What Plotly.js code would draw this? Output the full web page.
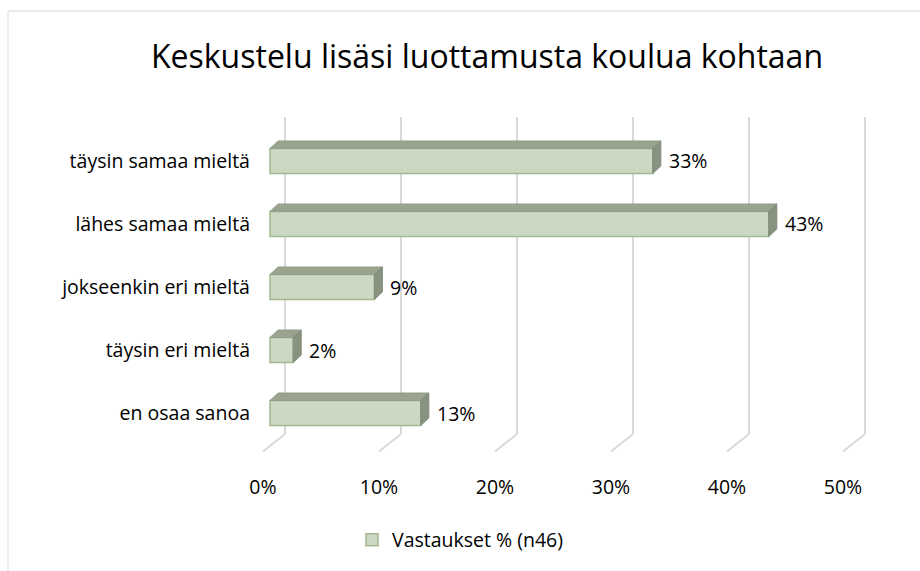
<!DOCTYPE html>
<html><head><meta charset="utf-8">
<script src="https://cdn.plot.ly/plotly-3.0.1.min.js"></script>
<style>html,body{margin:0;padding:0;background:#fff}</style>
</head><body><div id="chart" style="width:920px;height:571px"></div>
<script>
// ---- data ----
const categories = ['täysin samaa mieltä', 'lähes samaa mieltä', 'jokseenkin eri mieltä', 'täysin eri mieltä', 'en osaa sanoa'];
const values = [33, 43, 9, 2, 13];
const tickValues = [0, 10, 20, 30, 40, 50];
const tickLabels = ['0%', '10%', '20%', '30%', '40%', '50%'];
const seriesName = 'Vastaukset % (n46)';
const chartTitle = 'Keskustelu lisäsi luottamusta koulua kohtaan';

// ---- layout geometry (pixels) ----
const W = 920, H = 571;
const frontL = 270, frontR = 850;           // pixel positions of 0 and 50 on the bar plane
const xRange = [-0.7, 51.4];
const plotTop = 117, plotBottom = 434;
const yRange = [4.333, -0.698];
const pxPerX = (frontR - frontL) / 50;
const pxPerY = (plotBottom - plotTop) / (yRange[0] - yRange[1]);
const xDomainPx = [frontL + xRange[0] * pxPerX, frontL + xRange[1] * pxPerX];
const barH = 0.397;
const depthX = 8 / pxPerX, depthY = 7.5 / pxPerY;
const FONT = '"Open Sans", "Noto Sans", sans-serif';

const idx = categories.map((c, i) => i);

// 3D faces built from the data
const topX = [], topY = [], sideX = [], sideY = [];
values.forEach((v, i) => {
  const yt = i - barH / 2, yb = i + barH / 2;
  topX.push(0, v, v + depthX, depthX, 0, null);
  topY.push(yt, yt, yt - depthY, yt - depthY, yt, null);
  sideX.push(v, v, v + depthX, v + depthX, v, null);
  sideY.push(yt, yb, yb - depthY, yt - depthY, yt, null);
});

const traces = [
  { type: 'bar', orientation: 'h', name: seriesName, x: values, y: idx, width: barH,
    marker: { color: '#cdd8c2', line: { color: '#a2b98f', width: 1.5 } }, hoverinfo: 'x+y' },
  { type: 'scatter', x: topX, y: topY, mode: 'lines', fill: 'toself', fillcolor: '#99a38e',
    line: { color: '#939e88', width: 1 }, showlegend: false, hoverinfo: 'skip' },
  { type: 'scatter', x: sideX, y: sideY, mode: 'lines', fill: 'toself', fillcolor: '#87927f',
    line: { color: '#818c79', width: 1 }, showlegend: false, hoverinfo: 'skip' }
];

const yDomain = [(H - plotBottom) / H, (H - plotTop) / H];

// chart border + back-wall gridlines and floor edges (anchored on axis ticks, offset for depth)
const shapes = [
  { type: 'rect', xref: 'paper', yref: 'paper', x0: 8 / W, x1: 1.05, y0: -0.05, y1: 1 - 11 / H,
    line: { color: '#d9d9d9', width: 1 }, fillcolor: 'rgba(0,0,0,0)', layer: 'below' }
];
tickValues.forEach(t => {
  shapes.push({ type: 'line', xref: 'x', xsizemode: 'pixel', xanchor: t, x0: 15, x1: 15,
    yref: 'paper', y0: yDomain[0], y1: yDomain[1],
    line: { color: '#d9d9d9', width: 2 }, layer: 'below' });
  shapes.push({ type: 'line', xref: 'x', xsizemode: 'pixel', xanchor: t, x0: 15, x1: -7,
    yref: 'paper', ysizemode: 'pixel', yanchor: yDomain[0], y0: 0, y1: -17.5,
    line: { color: '#d9d9d9', width: 2 }, layer: 'below' });
});

const annotations = values.map((v, i) => ({
  x: v, y: i, xref: 'x', yref: 'y', text: v + '%', showarrow: false,
  xanchor: 'left', yanchor: 'middle', xshift: 14,
  font: { family: FONT, size: 19.5, color: '#000' }
}));

const layout = {
  width: W, height: H,
  margin: { l: 0, r: 0, t: 0, b: 0 },
  paper_bgcolor: '#fff', plot_bgcolor: 'rgba(0,0,0,0)',
  font: { family: FONT, size: 19.5, color: '#000' },
  title: { text: chartTitle, x: 487 / W, xanchor: 'center', y: 1 - 57 / H, yanchor: 'middle',
    xref: 'paper', yref: 'paper', font: { family: FONT, size: 32, color: '#000' } },
  showlegend: true,
  legend: { orientation: 'h', x: 352 / W, xanchor: 'left', y: 1 - 540 / H, yanchor: 'middle',
    font: { family: FONT, size: 19.5, color: '#000' }, bgcolor: 'rgba(0,0,0,0)' },
  xaxis: { domain: [xDomainPx[0] / W, xDomainPx[1] / W], range: xRange, anchor: 'y',
    tickvals: tickValues, ticktext: tickLabels, showgrid: false, zeroline: false, showline: false,
    ticks: 'outside', ticklen: 36, tickcolor: 'rgba(0,0,0,0)', ticklabelshift: -7,
    fixedrange: true },
  yaxis: { domain: yDomain, range: yRange, anchor: 'x', tickvals: idx, ticktext: categories,
    showgrid: false, zeroline: false, showline: false,
    ticks: 'outside', ticklen: 7, tickcolor: 'rgba(0,0,0,0)', fixedrange: true },
  shapes: shapes,
  annotations: annotations,
  bargap: 0
};

Plotly.newPlot('chart', traces, layout, { displayModeBar: false, staticPlot: true });
</script>
</body></html>
